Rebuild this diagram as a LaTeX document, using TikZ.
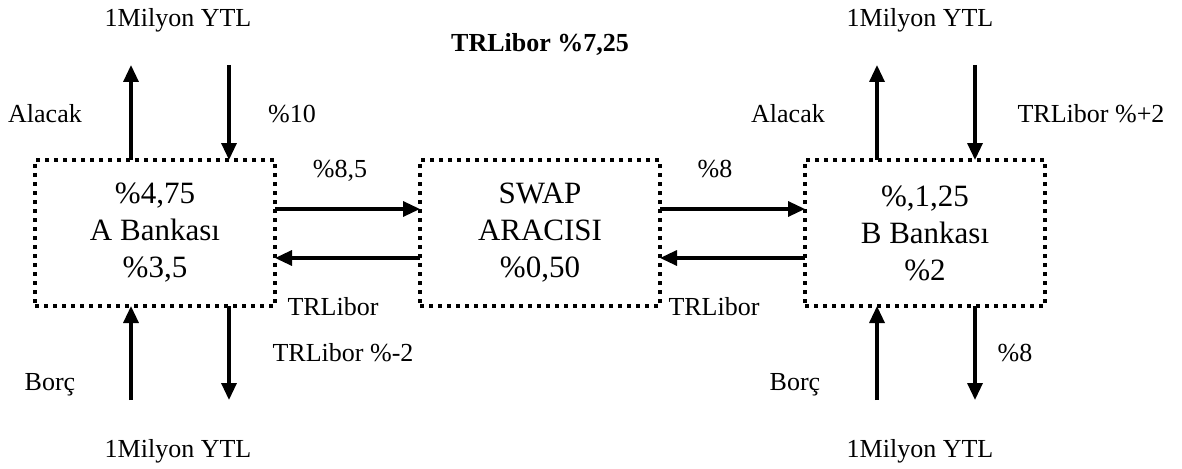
\documentclass[tikz,border=0pt]{standalone}
\usepackage{fontspec}
\setmainfont{Liberation Serif}
\usetikzlibrary{arrows.meta}
\begin{document}
\begin{tikzpicture}[x=1pt,y=-1pt,
  bank/.style={draw, line width=4pt, dash pattern=on 4pt off 5pt, minimum width=240pt, minimum height=146pt, outer sep=0pt, inner sep=0pt, align=center, font=\fontsize{31}{37}\selectfont},
  arr/.style={line width=3.3pt, -{Triangle[width=15pt,length=17pt]}},
  lbl/.style={anchor=base, inner sep=0pt, font=\fontsize{26}{30}\selectfont},
  blbl/.style={lbl, font=\fontsize{26}{30}\selectfont\bfseries}]
\useasboundingbox (0,0) rectangle (1182,468);
% boxes
\node[bank] (A) at (155,233) {\%4,75\\A Bankası\\\%3,5};
\node[bank] (S) at (540,233) {SWAP\\ARACISI\\\%0,50};
\node[bank] (B) at (925,233) {\%,1,25\\B Bankası\\\%2};
% free ends
\coordinate (aUt) at (131,65);
\coordinate (aDt) at (229,65);
\coordinate (aUb) at (131,400);
\coordinate (aDb) at (229,400);
\coordinate (bUt) at (877,65);
\coordinate (bDt) at (975,65);
\coordinate (bUb) at (877,400);
\coordinate (bDb) at (975,400);
% vertical arrows
\draw[arr] (A.north -| aUt) -- (aUt);
\draw[arr] (aDt) -- (A.north -| aDt);
\draw[arr] (aUb) -- (A.south -| aUb);
\draw[arr] (A.south -| aDb) -- (aDb);
\draw[arr] (B.north -| bUt) -- (bUt);
\draw[arr] (bDt) -- (B.north -| bDt);
\draw[arr] (bUb) -- (B.south -| bUb);
\draw[arr] (B.south -| bDb) -- (bDb);
% horizontal arrows
\draw[arr] ([yshift=24pt]A.east) -- ([yshift=24pt]S.west);
\draw[arr] ([yshift=-25pt]S.west) -- ([yshift=-25pt]A.east);
\draw[arr] ([yshift=24pt]S.east) -- ([yshift=24pt]B.west);
\draw[arr] ([yshift=-25pt]B.west) -- ([yshift=-25pt]S.east);
% labels
\node[lbl] (t1) at (178,27) {1Milyon YTL};
\node[lbl] (t2) at (920,27) {1Milyon YTL};
\node[lbl] (t3) at (178,457) {1Milyon YTL};
\node[lbl] (t4) at (920,457) {1Milyon YTL};
\node[blbl] (tr) at (540,52) {TRLibor \%7,25};
\node[lbl] (al1) at (45,123) {Alacak};
\node[lbl] (p10) at (292,123) {\%10};
\node[lbl] (al2) at (788,123) {Alacak};
\node[lbl] (trp) at (1091,123) {TRLibor \%+2};
\node[lbl] (p85) at (340,177) {\%8,5};
\node[lbl] (p8a) at (715,177) {\%8};
\node[lbl] (tl1) at (333,315) {TRLibor};
\node[lbl] (tl2) at (714,315) {TRLibor};
\node[lbl] (br1) at (50,390) {Borç};
\node[lbl] (trm) at (343,361) {TRLibor \%-2};
\node[lbl] (br2) at (795,390) {Borç};
\node[lbl] (p8b) at (1015,361) {\%8};
\end{tikzpicture}
\end{document}
